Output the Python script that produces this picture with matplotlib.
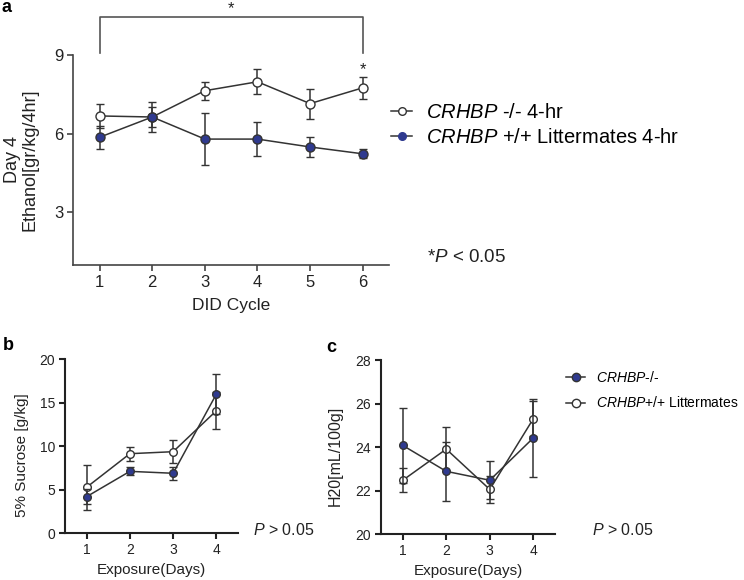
import matplotlib
matplotlib.use("Agg")
import matplotlib.pyplot as plt
from matplotlib.lines import Line2D

plt.rcParams['font.family'] = ['Liberation Sans', 'DejaVu Sans']
plt.rcParams['mathtext.fontset'] = 'custom'
plt.rcParams['mathtext.rm'] = 'Liberation Sans'
plt.rcParams['mathtext.it'] = 'Liberation Sans:italic'

# ---------------- data ----------------
a_cycles = [1, 2, 3, 4, 5, 6]
a_ko_mean = [6.67, 6.63, 7.63, 7.97, 7.14, 7.74]
a_ko_sem = [0.47, 0.56, 0.35, 0.47, 0.57, 0.42]
a_wt_mean = [5.86, 6.63, 5.79, 5.79, 5.49, 5.23]
a_wt_sem = [0.43, 0.38, 1.00, 0.65, 0.37, 0.17]
a_yticks = [3, 6, 9]

b_days = [1, 2, 3, 4]
b_ko_mean = [4.21, 7.12, 6.90, 16.00]
b_ko_sem = [0.85, 0.45, 0.77, 2.30]
b_wt_mean = [5.29, 9.15, 9.38, 14.09]
b_wt_sem = [2.56, 0.80, 1.35, 2.14]
b_yticks = [0, 5, 10, 15, 20]

c_days = [1, 2, 3, 4]
c_ko_mean = [24.08, 22.89, 22.48, 24.42]
c_ko_sem = [1.73, 1.36, 0.88, 1.80]
c_wt_mean = [22.48, 23.91, 22.06, 25.30]
c_wt_sem = [0.55, 1.00, 0.62, 0.80]
c_yticks = [20, 22, 24, 26, 28]

BLUE = '#2F3A8F'
DARK = '#333333'
SPINE = '#444444'
TXT = '#222222'

W, H = 744, 580
fig = plt.figure(figsize=(W / 100, H / 100), dpi=100)


def box(x0, y0, x1, y1):
    return [x0 / W, 1 - y1 / H, (x1 - x0) / W, (y1 - y0) / H]


def style(ax, fs, lw=1.2, col=SPINE):
    for s in ['top', 'right']:
        ax.spines[s].set_visible(False)
    for s in ['left', 'bottom']:
        ax.spines[s].set_color(col)
        ax.spines[s].set_linewidth(lw)
    ax.tick_params(direction='out', length=4, width=lw, color=col,
                   labelsize=fs, labelcolor=TXT, pad=3)


def series(ax, x, m, e, filled, ms):
    ax.errorbar(x, m, yerr=e, fmt='-o', color=DARK, lw=1.1, elinewidth=1.1,
                capsize=3, capthick=1.1, ms=ms,
                mfc=BLUE if filled else 'white', mec=DARK, mew=1.0,
                zorder=3 if filled else 2, clip_on=False)


# ---------------- panel a ----------------
axa = fig.add_axes(box(73.3, 54.7, 389, 265))
series(axa, a_cycles, a_ko_mean, a_ko_sem, False, 6.5)
series(axa, a_cycles, a_wt_mean, a_wt_sem, True, 6.5)
axa.set_xlim(0.5, 6.5)
axa.set_ylim(1, 9)
axa.set_xticks(a_cycles)
axa.set_yticks(a_yticks)
style(axa, 12)
axa.set_xlabel('DID Cycle', fontsize=12.5, color=TXT, labelpad=6)
axa.set_ylabel('Day 4\nEthanol[gr/kg/4hr]', fontsize=13, color=TXT,
               linespacing=1.05)
axa.yaxis.set_label_coords(-0.11, 0.5)
# significance bracket
axa.plot([1, 1, 6, 6], [9.05, 10.42, 10.42, 9.05], color='#555555', lw=1.2,
         clip_on=False)
axa.text(3.5, 10.75, '*', ha='center', va='center', fontsize=12, color=TXT)
axa.text(6, 8.45, '*', ha='center', va='center', fontsize=12, color=TXT)

ha_ko = Line2D([], [], color=DARK, lw=1.1, marker='o', ms=5.5, mfc='white', mec=DARK)
ha_wt = Line2D([], [], color=DARK, lw=1.1, marker='o', ms=5.5, mfc=BLUE, mec=BLUE)
fig.legend([ha_ko, ha_wt],
           [r'$\it{CRHBP}$ -/- 4-hr', r'$\it{CRHBP}$ +/+ Littermates 4-hr'],
           loc='upper left', bbox_to_anchor=(391 / W, 1 - 103 / H),
           frameon=False, fontsize=14.5, handlelength=1.05, handletextpad=0.7,
           labelspacing=0.3, borderpad=0, borderaxespad=0)
fig.text(427 / W, 1 - 258 / H, r'*$\it{P}$ < 0.05', fontsize=13.5, va='center',
         ha='left', color=TXT)
fig.text(2 / W, 1 - 8 / H, 'a', fontsize=13, fontweight='bold', va='center')

# ---------------- panel b ----------------
axb = fig.add_axes(box(65, 359.3, 238, 533.3))
series(axb, b_days, b_wt_mean, b_wt_sem, False, 5.5)
series(axb, b_days, b_ko_mean, b_ko_sem, True, 5.5)
axb.set_xlim(0.5, 4.5)
axb.set_ylim(0, 20)
axb.set_xticks(b_days)
axb.set_yticks(b_yticks)
style(axb, 10, lw=1.5, col='#222222')
axb.set_xlabel('Exposure(Days)', fontsize=11, color=TXT, labelpad=4)
axb.set_ylabel('5% Sucrose [g/kg]', fontsize=11, color=TXT)
axb.yaxis.set_label_coords(-0.21, 0.45)
fig.text(253 / W, 1 - 530 / H, r'$\it{P}$ > 0.05', fontsize=11.5, va='center',
         ha='left', color=TXT)
fig.text(3 / W, 1 - 346 / H, 'b', fontsize=13, fontweight='bold', va='center')

# ---------------- panel c ----------------
axc = fig.add_axes(box(381, 360, 555, 534.3))
series(axc, c_days, c_wt_mean, c_wt_sem, False, 5.5)
series(axc, c_days, c_ko_mean, c_ko_sem, True, 5.5)
axc.set_xlim(0.5, 4.5)
axc.set_ylim(20, 28)
axc.set_xticks(c_days)
axc.set_yticks(c_yticks)
style(axc, 10, lw=1.5, col='#222222')
axc.set_xlabel('Exposure(Days)', fontsize=11, color=TXT, labelpad=4)
axc.set_ylabel('H20[mL/100g]', fontsize=11.5, color=TXT)
axc.yaxis.set_label_coords(-0.22, 0.45)
hc_ko = Line2D([], [], color=DARK, lw=1.1, marker='o', ms=6, mfc=BLUE, mec=DARK)
hc_wt = Line2D([], [], color=DARK, lw=1.1, marker='o', ms=6, mfc='white', mec=DARK)
fig.legend([hc_ko, hc_wt],
           [r'$\it{CRHBP}$-/-', r'$\it{CRHBP}$+/+ Littermates'],
           loc='upper left', bbox_to_anchor=(566 / W, 1 - 370 / H),
           frameon=False, fontsize=10, handlelength=1.4, handletextpad=0.75,
           labelspacing=0.75, borderpad=0, borderaxespad=0)
fig.text(592 / W, 1 - 530 / H, r'$\it{P}$ > 0.05', fontsize=11.5, va='center',
         ha='left', color=TXT)
fig.text(326 / W, 1 - 348 / H, 'c', fontsize=13, fontweight='bold', va='center')

fig.savefig('out.png', dpi=100)
